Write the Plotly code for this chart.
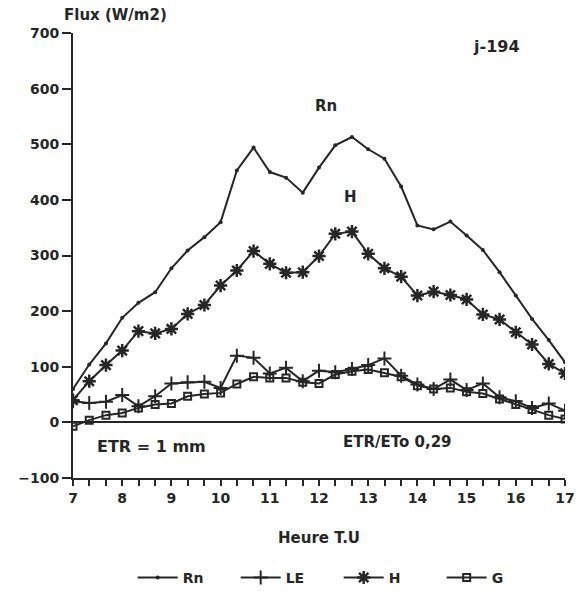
import plotly.graph_objects as go

# heures T.U (pas de 20 min)
heures = [7.00, 7.33, 7.67, 8.00, 8.33, 8.67, 9.00, 9.33, 9.67, 10.00, 10.33,
          10.67, 11.00, 11.33, 11.67, 12.00, 12.33, 12.67, 13.00, 13.33, 13.67,
          14.00, 14.33, 14.67, 15.00, 15.33, 15.67, 16.00, 16.33, 16.67, 17.00]

rn = [60, 104, 142, 188, 215, 234, 277, 309, 333, 360, 453,
      494, 450, 440, 413, 458, 498, 513, 491, 474, 424,
      354, 347, 361, 336, 310, 270, 228, 186, 148, 108]

le = [38, 35, 37, 49, 29, 47, 70, 72, 73, 62, 120,
      116, 88, 98, 74, 93, 90, 96, 103, 115, 84,
      68, 60, 77, 58, 70, 45, 38, 26, 34, 21]

h = [40, 74, 103, 129, 164, 160, 168, 195, 211, 246, 273,
     308, 285, 269, 270, 299, 339, 343, 303, 277, 262,
     228, 235, 229, 221, 194, 185, 162, 140, 105, 88]

g = [-7, 4, 13, 17, 26, 32, 34, 47, 51, 53, 69,
     82, 80, 80, 72, 70, 86, 92, 95, 89, 82,
     66, 60, 62, 55, 52, 42, 32, 23, 13, 6]

ink = '#262626'
police = dict(family='DejaVu Sans', size=14, color=ink, weight='bold')

fig = go.Figure()
fig.add_trace(go.Scatter(x=heures, y=rn, name='Rn', mode='lines+markers',
                         line=dict(color=ink, width=2),
                         marker=dict(symbol='circle', size=4, color=ink)))
fig.add_trace(go.Scatter(x=heures, y=le, name='LE', mode='lines+markers',
                         line=dict(color=ink, width=2),
                         marker=dict(symbol='cross-thin', size=10, color=ink,
                                     line=dict(color=ink, width=2))))
fig.add_trace(go.Scatter(x=heures, y=h, name='H', mode='lines+markers',
                         line=dict(color=ink, width=2),
                         marker=dict(symbol='asterisk-open', size=11, color=ink,
                                     line=dict(color=ink, width=2.5))))
fig.add_trace(go.Scatter(x=heures, y=g, name='G', mode='lines+markers',
                         line=dict(color=ink, width=2),
                         marker=dict(symbol='square-open', size=7, color=ink,
                                     line=dict(color=ink, width=2))))

fig.update_xaxes(range=[7, 17], dtick=1, tick0=7, showgrid=False,
                 showline=True, linecolor=ink, linewidth=2,
                 ticks='outside', ticklen=6, tickwidth=2, tickcolor=ink,
                 minor=dict(dtick=1/3, tick0=7, ticks='outside', ticklen=6,
                            tickwidth=2, tickcolor=ink, showgrid=False),
                 tickfont=police, zeroline=False,
                 title=dict(text='Heure T.U', font=dict(police, size=15),
                            standoff=28))
fig.update_yaxes(range=[-100, 700], dtick=100, showgrid=False,
                 showline=True, linecolor=ink, linewidth=2,
                 ticks='outside', ticklen=9, tickwidth=2, tickcolor=ink,
                 tickfont=police, zeroline=True, zerolinecolor=ink,
                 zerolinewidth=2)

fig.add_annotation(text='Flux (W/m2)', xref='paper', yref='paper',
                   x=-0.022, y=1.04, xanchor='left', yanchor='middle',
                   showarrow=False, font=dict(police, size=15))
fig.add_annotation(text='j-194', x=15.6, y=676, showarrow=False,
                   font=dict(police, size=16))
fig.add_annotation(text='Rn', x=12.15, y=568, showarrow=False,
                   font=dict(police, size=15))
fig.add_annotation(text='H', x=12.63, y=406, showarrow=False,
                   font=dict(police, size=15))
fig.add_annotation(text='ETR = 1 mm', x=8.6, y=-43, showarrow=False,
                   font=dict(police, size=16))
fig.add_annotation(text='ETR/ETo 0,29', x=13.6, y=-35, showarrow=False,
                   font=dict(police, size=15))

fig.update_layout(width=584, height=597, plot_bgcolor='white',
                  paper_bgcolor='white',
                  margin=dict(l=73, r=19, t=33, b=119, autoexpand=False),
                  legend=dict(orientation='h', x=0.54, xanchor='center',
                              xref='paper', yref='container',
                              y=0.032, yanchor='middle', font=police,
                              itemwidth=40, entrywidth=48))

fig.write_html("out.html", config={'displayModeBar': False},
               post_script="document.body.style.margin='0px';")
